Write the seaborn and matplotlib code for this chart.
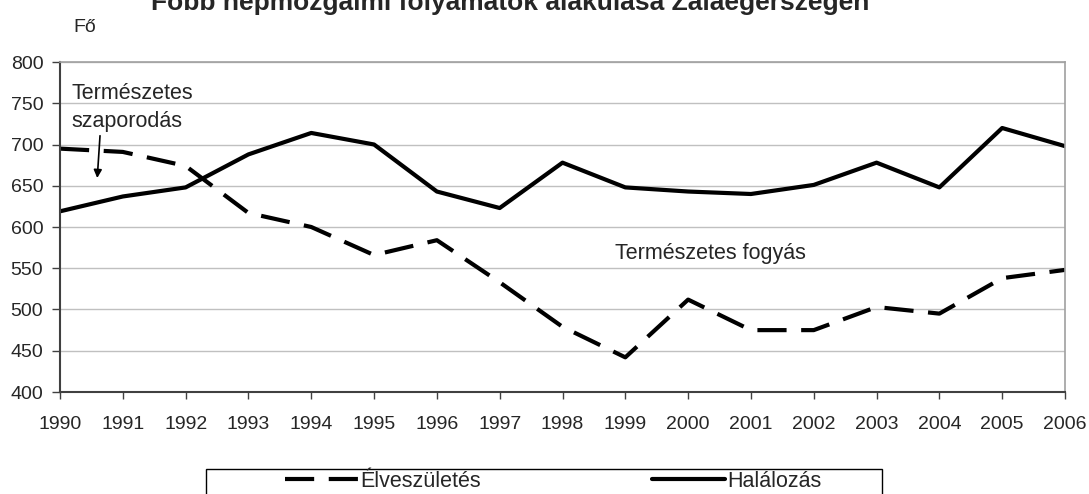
import matplotlib
matplotlib.use("Agg")
import matplotlib.pyplot as plt
import pandas as pd
import seaborn as sns
from matplotlib.lines import Line2D
from matplotlib.patches import Rectangle

YEARS = list(range(1990, 2007))
BIRTHS = [695, 691, 674, 617, 600, 566, 584, 533, 479, 442, 512, 475, 475, 503, 495, 538, 548]
DEATHS = [619, 637, 648, 688, 714, 700, 643, 623, 678, 648, 643, 640, 651, 678, 648, 720, 698]
LABEL_BIRTHS = "Élveszületés"
LABEL_DEATHS = "Halálozás"
TITLE = "Főbb népmozgalmi folyamatok alakulása Zalaegerszegen"

sns.set_theme(style="white")
plt.rcParams["font.family"] = ["Liberation Sans", "DejaVu Sans"]

df = pd.DataFrame({
    "year": YEARS * 2,
    "value": BIRTHS + DEATHS,
    "series": [LABEL_BIRTHS] * len(YEARS) + [LABEL_DEATHS] * len(YEARS),
})

W, H = 1089, 494
fig = plt.figure(figsize=(W / 100, H / 100), dpi=100)
ax = fig.add_axes([60 / W, 1 - 392 / H, (1065 - 60) / W, (392 - 62) / H])

dash = (7, 3.5)
sns.lineplot(data=df, x="year", y="value", hue="series", style="series",
             palette={LABEL_BIRTHS: "black", LABEL_DEATHS: "black"},
             dashes={LABEL_BIRTHS: dash, LABEL_DEATHS: ""},
             linewidth=3, legend=False, ax=ax)

ax.set_xlim(1990, 2006)
ax.set_ylim(400, 800)
ax.set_xticks(YEARS)
ax.set_xticklabels([str(y) for y in YEARS])
ax.set_yticks(range(400, 801, 50))
ax.set_xlabel("")
ax.set_ylabel("")
ax.yaxis.grid(True, color="#c0c0c0", linewidth=1)
ax.set_axisbelow(True)
ax.tick_params(axis="x", labelsize=14, length=5, width=1, color="#404040",
               direction="out", bottom=True, pad=12)
ax.tick_params(axis="y", labelsize=14, length=6, width=1, color="#404040",
               direction="out", left=True, pad=6)
for side in ["left", "bottom"]:
    ax.spines[side].set_color("#404040")
    ax.spines[side].set_linewidth(1.5)
for side in ["right", "top"]:
    ax.spines[side].set_color("#a0a0a0")
    ax.spines[side].set_linewidth(1.2)

fig.text(510 / W, 1 - 10 / H, TITLE, ha="center", va="baseline", fontsize=19, fontweight="bold")
fig.text(73 / W, 1 - 28 / H, "Fő", ha="left", va="center", fontsize=14)

ax.text(1990.19, 745, "Természetes\nszaporodás", ha="left", va="center",
        fontsize=15.5, linespacing=1.45)
ax.annotate("", xy=(1990.59, 656), xytext=(1990.64, 714),
            arrowprops=dict(arrowstyle="-|>", color="black", lw=1.2, mutation_scale=12))
ax.text(1998.84, 568, "Természetes fogyás", ha="left", va="center", fontsize=15.5)

# legend frame runs past the lower edge of the figure, as in the original
fig.patches.append(Rectangle((206 / W, -0.05), (882 - 206) / W, 0.05 + 25 / H,
                             transform=fig.transFigure, fill=False,
                             edgecolor="black", linewidth=1))
handles = [Line2D([], [], color="black", lw=3, dashes=dash),
           Line2D([], [], color="black", lw=3)]
fig.legend(handles, [LABEL_BIRTHS, LABEL_DEATHS], loc="center left",
           bbox_to_anchor=(285 / W, 1 - 481 / H), ncol=2, frameon=False,
           fontsize=15.5, handlelength=3.4, handletextpad=0.1,
           columnspacing=7.95, borderpad=0, borderaxespad=0)

fig.savefig("out.png", dpi=100)
